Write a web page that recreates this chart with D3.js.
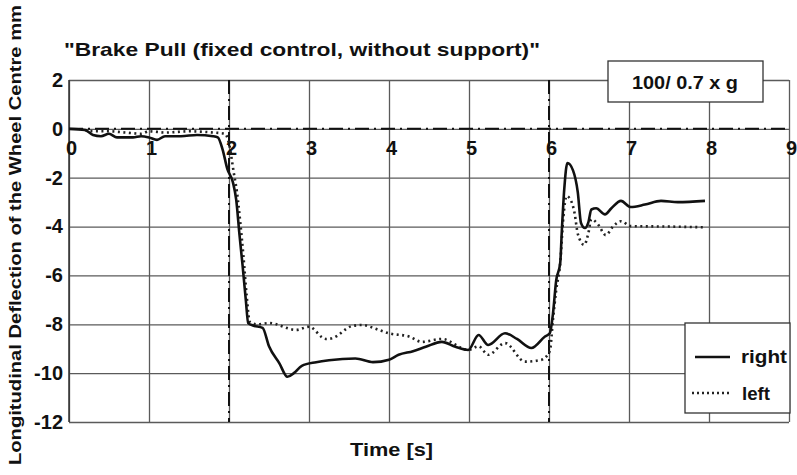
<!DOCTYPE html>
<html>
<head>
<meta charset="utf-8">
<script src="https://cdn.jsdelivr.net/npm/d3@7"></script>
<style>
  body { margin: 0; background: #fff; }
  svg { display: block; font-family: "Liberation Sans", Arial, sans-serif; font-weight: bold; }
</style>
</head>
<body>
<div id="chart"></div>
<script>
const width = 797, height = 475;
const margin = { top: 80, left: 69, right: 5, bottom: 53 };

const xTicks = [0, 1, 2, 3, 4, 5, 6, 7, 8, 9];
const yTicks = [2, 0, -2, -4, -6, -8, -10, -12];
const markTimes = [2, 6];

const rightT = [0, 0.2, 0.3, 0.4, 0.5, 0.6, 0.8, 0.9, 1.0, 1.1, 1.2, 1.4, 1.6, 1.8, 1.86, 1.92, 1.98, 2.05, 2.09, 2.13, 2.17, 2.21, 2.24, 2.3, 2.42, 2.5, 2.63, 2.73, 2.81, 2.91, 3.09, 3.25, 3.58, 3.8, 4.0, 4.12, 4.3, 4.46, 4.66, 4.83, 4.99, 5.12, 5.24, 5.45, 5.6, 5.78, 5.95, 6.01, 6.05, 6.09, 6.14, 6.16, 6.19, 6.23, 6.3, 6.36, 6.4, 6.45, 6.49, 6.53, 6.59, 6.7, 6.78, 6.9, 7.02, 7.2, 7.4, 7.61, 7.95];
const rightV = [0, -0.05, -0.25, -0.3, -0.2, -0.35, -0.35, -0.3, -0.35, -0.45, -0.3, -0.3, -0.25, -0.3, -0.35, -0.85, -1.65, -2.2, -2.9, -4.3, -5.6, -7.0, -7.95, -8.05, -8.15, -8.9, -9.6, -10.15, -10.0, -9.7, -9.55, -9.47, -9.4, -9.55, -9.45, -9.25, -9.1, -8.92, -8.72, -8.92, -9.05, -8.44, -8.85, -8.37, -8.6, -8.97, -8.5, -8.37, -7.55, -6.2, -5.5, -4.2, -2.5, -1.4, -1.7, -2.6, -3.85, -4.06, -3.85, -3.3, -3.25, -3.5, -3.25, -2.95, -3.2, -3.1, -2.95, -3.0, -2.95];

const leftT = [0.2, 0.3, 0.5, 0.7, 0.9, 1.0, 1.2, 1.5, 1.8, 1.95, 2.0, 2.06, 2.1, 2.14, 2.18, 2.22, 2.26, 2.35, 2.5, 2.84, 3.0, 3.21, 3.29, 3.54, 3.66, 3.87, 4.0, 4.25, 4.41, 4.66, 4.99, 5.12, 5.24, 5.45, 5.7, 5.9, 6.01, 6.05, 6.09, 6.14, 6.18, 6.22, 6.26, 6.32, 6.36, 6.44, 6.49, 6.53, 6.61, 6.71, 6.8, 6.9, 7.02, 7.5, 7.96];
const leftV = [-0.05, -0.1, -0.1, -0.15, -0.2, -0.1, -0.15, -0.1, -0.15, -0.2, -0.6, -1.8, -2.6, -3.8, -5.2, -6.8, -7.9, -8.0, -7.95, -8.23, -8.1, -8.6, -8.57, -8.07, -8.03, -8.23, -8.37, -8.5, -8.72, -8.6, -9.05, -8.9, -9.25, -8.77, -9.53, -9.46, -9.1, -7.8, -6.6, -5.5, -3.6, -2.75, -2.85, -3.45, -4.3, -4.75, -4.3, -3.7, -3.9, -4.35, -4.0, -3.78, -3.98, -4.0, -4.03];

const right = rightT.map((t, i) => ({ t: t, v: rightV[i] }));
const left = leftT.map((t, i) => ({ t: t, v: leftV[i] }));

const svg = d3.select("#chart").append("svg")
  .attr("width", width)
  .attr("height", height);

const x = d3.scaleLinear().domain([0, 9]).range([margin.left, width - margin.right - 3]);
const y = d3.scaleLinear().domain([-12, 2]).range([height - margin.bottom, margin.top]);

const gridColor = "#5a5a5a";
const font = "Liberation Sans, Arial, sans-serif";

// grid
svg.append("g")
  .attr("transform", `translate(0,${y(-12)})`)
  .call(d3.axisBottom(x).tickValues(xTicks).tickSize(-(y(-12) - y(2))).tickFormat(""))
  .call(g => g.select(".domain").remove())
  .call(g => g.selectAll("line").attr("stroke", gridColor).attr("stroke-width", 1.3));

svg.append("g")
  .attr("transform", `translate(${x(0)},0)`)
  .call(d3.axisLeft(y).tickValues(yTicks).tickSize(-(x(9) - x(0))).tickFormat(""))
  .call(g => g.select(".domain").remove())
  .call(g => g.selectAll("line").attr("stroke", gridColor).attr("stroke-width", 1.3));

svg.append("line")
  .attr("x1", x(0)).attr("x2", x(0))
  .attr("y1", y(2)).attr("y2", y(-12))
  .attr("stroke", "#333").attr("stroke-width", 1.5);

// tick labels (plain hyphen minus, as in the original)
svg.append("g")
  .attr("transform", `translate(${x(0)},0)`)
  .call(d3.axisLeft(y).tickValues(yTicks).tickSize(0).tickPadding(6).tickFormat(d => String(d)))
  .call(g => g.select(".domain").remove())
  .call(g => g.selectAll("text")
    .attr("font-family", font)
    .attr("font-weight", "bold")
    .attr("font-size", 20).attr("fill", "#111"));

svg.append("g")
  .attr("transform", `translate(0,${y(0)})`)
  .call(d3.axisBottom(x).tickValues(xTicks).tickSize(0).tickPadding(12))
  .call(g => g.select(".domain").remove())
  .call(g => g.selectAll("text")
    .attr("dx", 2)
    .attr("font-family", font)
    .attr("font-weight", "bold")
    .attr("font-size", 20).attr("fill", "#111"));

// dash-dot reference lines
const dashDot = "14,5,2,5";
svg.append("line")
  .attr("x1", x(0)).attr("x2", x(9))
  .attr("y1", y(0)).attr("y2", y(0))
  .attr("stroke", "#111").attr("stroke-width", 2)
  .attr("stroke-dasharray", dashDot);

svg.selectAll(".vmark")
  .data(markTimes)
  .enter().append("line")
  .attr("class", "vmark")
  .attr("x1", d => x(d)).attr("x2", d => x(d))
  .attr("y1", y(2)).attr("y2", y(-12))
  .attr("stroke", "#111").attr("stroke-width", 2)
  .attr("stroke-dasharray", dashDot);

// curves
const line = d3.line()
  .x(d => x(d.t))
  .y(d => y(d.v))
  .curve(d3.curveMonotoneX);

svg.append("path")
  .datum(left)
  .attr("fill", "none")
  .attr("stroke", "#222")
  .attr("stroke-width", 2.6)
  .attr("stroke-dasharray", "2,3.5")
  .attr("d", line);

svg.append("path")
  .datum(right)
  .attr("fill", "none")
  .attr("stroke", "#111")
  .attr("stroke-width", 2.6)
  .attr("stroke-linejoin", "round")
  .attr("d", line);

// title
svg.append("text")
  .attr("x", 64).attr("y", 56)
  .attr("font-size", 19)
  .attr("textLength", 476).attr("lengthAdjust", "spacingAndGlyphs")
  .attr("fill", "#111")
  .text("\"Brake Pull (fixed control, without support)\"");

// condition box
svg.append("rect")
  .attr("x", 608).attr("y", 61).attr("width", 155).attr("height", 41)
  .attr("fill", "#fff").attr("stroke", "#333").attr("stroke-width", 1.3);
svg.append("text")
  .attr("x", 632).attr("y", 89)
  .attr("font-size", 19)
  .attr("textLength", 106).attr("lengthAdjust", "spacingAndGlyphs")
  .attr("fill", "#111")
  .text("100/ 0.7 x g");

// axis titles
svg.append("text")
  .attr("x", 350).attr("y", 456)
  .attr("font-size", 19)
  .attr("textLength", 83).attr("lengthAdjust", "spacingAndGlyphs")
  .attr("fill", "#111")
  .text("Time [s]");

svg.append("text")
  .attr("transform", "translate(21,465) rotate(-90)")
  .attr("font-size", 17)
  .attr("textLength", 460).attr("lengthAdjust", "spacingAndGlyphs")
  .attr("fill", "#111")
  .text("Longitudinal Deflection of the Wheel Centre mm");

// legend
const legend = svg.append("g").attr("transform", "translate(685,323)");
legend.append("rect")
  .attr("width", 105).attr("height", 90)
  .attr("fill", "#fff").attr("stroke", "#333").attr("stroke-width", 1.3);
legend.append("line")
  .attr("x1", 10).attr("x2", 45).attr("y1", 34).attr("y2", 34)
  .attr("stroke", "#111").attr("stroke-width", 2.6);
legend.append("line")
  .attr("x1", 7).attr("x2", 45).attr("y1", 70).attr("y2", 70)
  .attr("stroke", "#222").attr("stroke-width", 2.6).attr("stroke-dasharray", "2,3");
legend.append("text")
  .attr("x", 56).attr("y", 40).attr("font-size", 18)
  .attr("textLength", 46).attr("lengthAdjust", "spacingAndGlyphs")
  .attr("fill", "#111").text("right");
legend.append("text")
  .attr("x", 57).attr("y", 77).attr("font-size", 18)
  .attr("textLength", 28).attr("lengthAdjust", "spacingAndGlyphs")
  .attr("fill", "#111").text("left");
</script>
</body>
</html>
